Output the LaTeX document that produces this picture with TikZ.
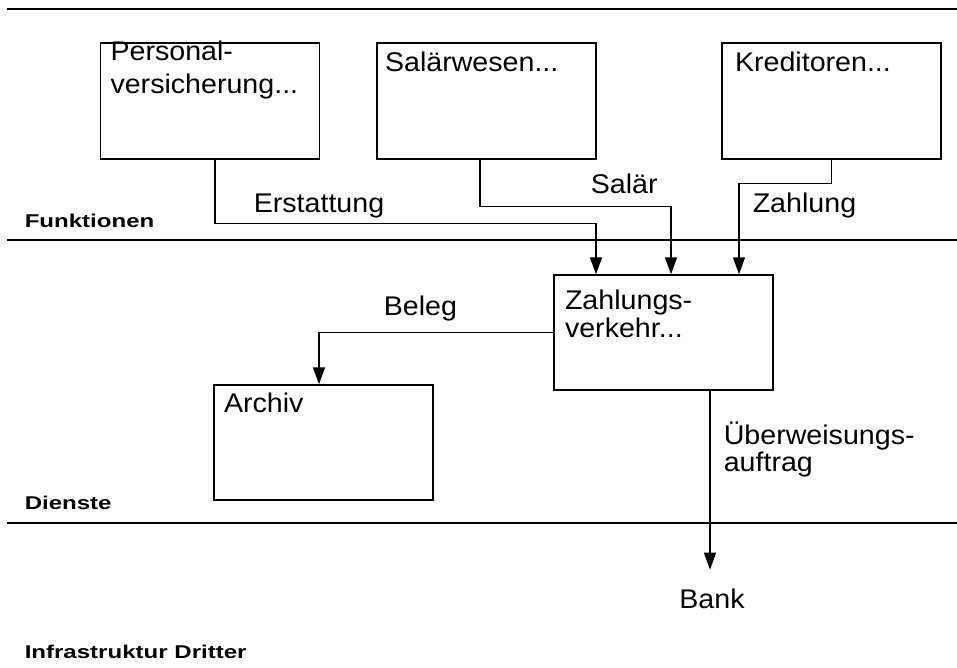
\documentclass[tikz,border=0pt]{standalone}
\usepackage{fontspec}
\setmainfont{Liberation Sans}[FakeStretch=1.06]
\newfontfamily\ebenefont{Liberation Sans}[FakeStretch=1.3]
\usetikzlibrary{positioning,calc,arrows.meta}

\begin{document}
\begin{tikzpicture}[x=1pt,y=-1pt,line width=1.5pt]
		\tikzstyle{modul}=[draw, rectangle, minimum width=219, minimum height=116, inner sep=0];
		\tikzstyle{beschr}=[font=\fontsize{27}{28}\selectfont, inner sep=0, align=left, anchor=base west];
		\tikzstyle{ebene}=[font=\ebenefont\bfseries\fontsize{18.5}{22}\selectfont, inner sep=0, anchor=base west];
		\tikzstyle{fluss}=[-{Triangle[length=17pt,width=12pt]}];

		\useasboundingbox (0,0) rectangle (957,668);

		% Ebenen
		\draw (7,9) -- (957,9);
		\draw (7,240) -- (957,240);
		\draw (7,523) -- (957,523);
		\node[ebene] (l_fkt) at (24,227) {Funktionen};
		\node[ebene] (l_dst) at (24,509) {Dienste};
		\node[ebene] (l_inf) at (24,658) {Infrastruktur Dritter};

		% Module
		\node[modul] (b_pv) at (210,101) {};
		\node[modul] (b_sw) at (486.5,101) {};
		\node[modul] (b_kr) at (831.5,101) {};
		\node[modul, minimum height=115] (b_zv) at (663.5,332.5) {};
		\node[modul, minimum height=115] (b_ar) at (323.5,442.5) {};

		\node[beschr, font=\fontsize{27}{33}\selectfont] (t_pv) at ($(b_pv.north west)+(10,51)$) {Personal-\\versicherung...};
		\node[beschr] (t_sw) at ($(b_sw.north west)+(8,29)$) {Salärwesen...};
		\node[beschr] (t_kr) at ($(b_kr.north west)+(13,29)$) {Kreditoren...};
		\node[beschr] (t_zv) at ($(b_zv.north west)+(11,63)$) {Zahlungs-\\verkehr...};
		\node[beschr] (t_ar) at ($(b_ar.north west)+(10,28)$) {Archiv};

		\node[beschr, anchor=base, inner ysep=18pt] (bank) at (712,608) {Bank};

		% Fluesse
		\draw[fluss] ([xshift=5pt]b_pv.south) -- ++(0,64) -| ([xshift=-67.5pt]b_zv.north);
		\draw[fluss] ([xshift=-6.5pt]b_sw.south) -- ++(0,47) -| ([xshift=7.5pt]b_zv.north);
		\draw[fluss] (b_kr.south) -- ++(0,24) -| ([xshift=75.5pt]b_zv.north);
		\draw[fluss] (b_zv.west) -| ([xshift=-4.5pt]b_ar.north);
		\draw[fluss] ([xshift=46.5pt]b_zv.south) -- ([xshift=46.5pt]b_zv.south |- bank.north);

		\node[beschr] (f_erst) at (253,212) {Erstattung};
		\node[beschr] (f_sal) at (590,194) {Salär};
		\node[beschr] (f_zahl) at (752,213) {Zahlung};
		\node[beschr] (f_beleg) at (383,315) {Beleg};
		\node[beschr, font=\fontsize{27}{25}\selectfont] (f_ueb) at (723,471) {Überweisungs-\\auftrag};
	\end{tikzpicture}
\end{document}
